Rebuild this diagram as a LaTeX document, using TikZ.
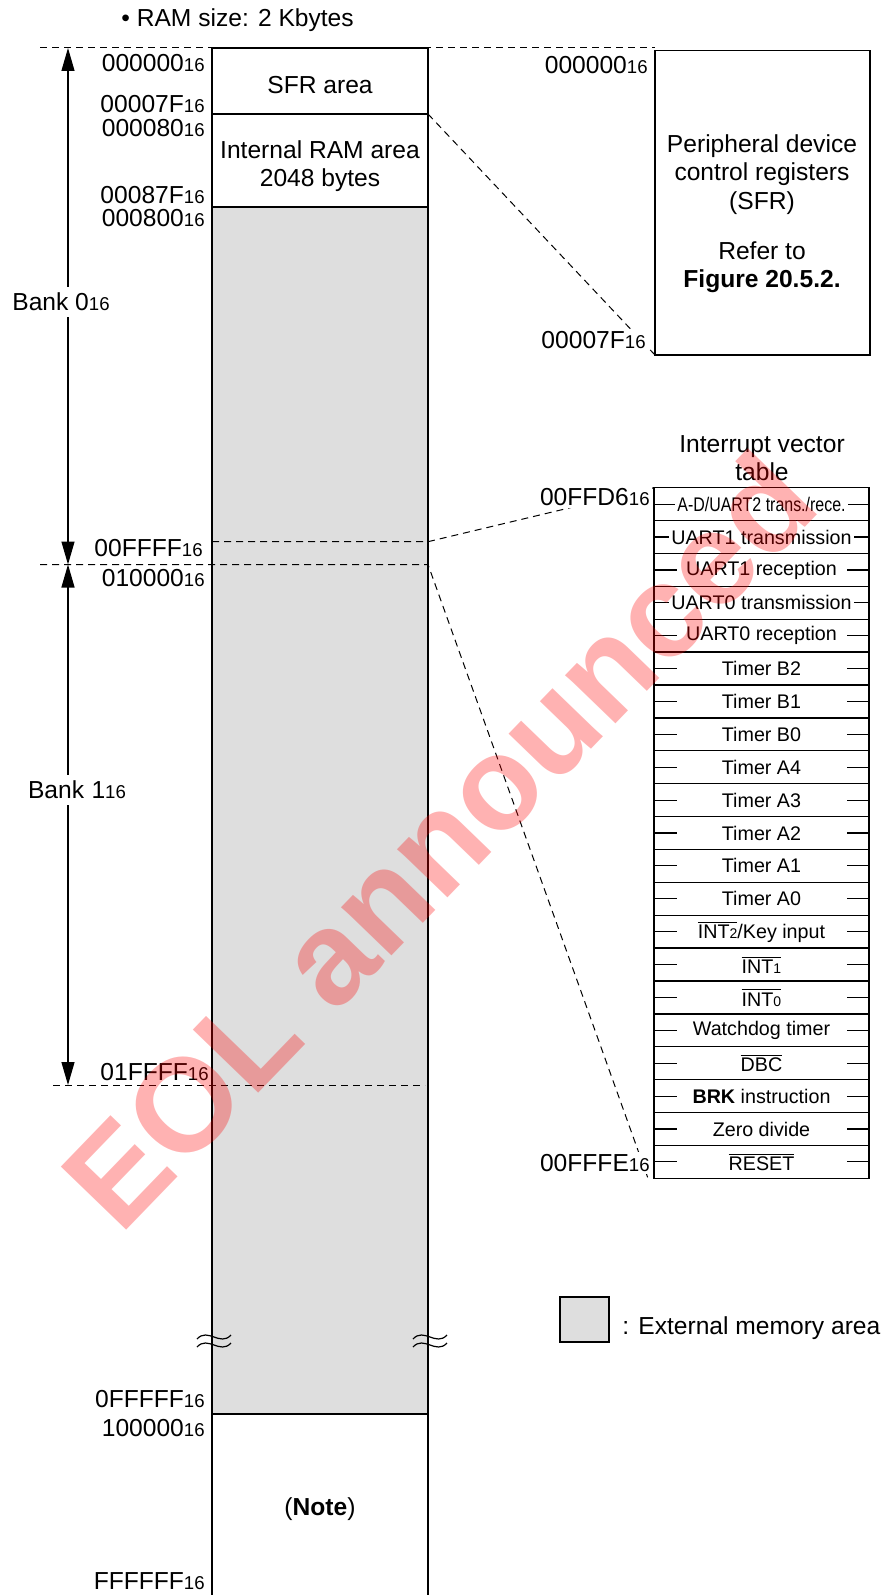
\documentclass[tikz,border=0pt]{standalone}
\usepackage{fontspec}
\setmainfont{Liberation Sans}
\usepackage{graphicx}
\usetikzlibrary{arrows.meta}
\definecolor{extgray}{RGB}{222,222,222}
\newcommand\mainsz{\fontsize{12.3pt}{14.25pt}\selectfont}
\newcommand\tabsz{\fontsize{9.85pt}{11pt}\selectfont}
\newcommand\subsz{\fontsize{9.3pt}{10pt}\selectfont}
\newcommand\hx[1]{#1{\subsz 16}}
\newcommand\smalltwo[1]{{\fontsize{7pt}{8pt}\selectfont #1}}
\newcommand\ovl[1]{$\overline{\hbox{#1}}$}
\tikzset{
  dsh/.style={dash pattern=on 3.5pt off 2.5pt, line width=0.5pt},
  lab/.style={font=\mainsz, inner sep=1pt},
  lbl/.style={lab, anchor=east},
  lblw/.style={lbl, fill=white},
  box/.style={draw, line width=0.65pt, inner sep=0pt, outer sep=0pt},
  rowbox/.style={box, minimum width=107.5pt, minimum height=16.45pt},
  rowtxt/.style={font=\tabsz, fill=white, inner xsep=1pt, inner ysep=0.5pt},
  bankarrow/.style={{Triangle[width=6.5pt,length=11.5pt]}-{Triangle[width=6.5pt,length=11.5pt]}, line width=0.6pt},
  banklab/.style={lab, fill=white, inner sep=3pt},
  wave/.style={line width=0.6pt},
}
\begin{document}
\begin{tikzpicture}[x=0.5pt,y=-0.5pt]
\useasboundingbox (0,0) rectangle (885,1595);
\fill[white] (0,0) rectangle (885,1595);

% title
\node[lab, anchor=west] (title) at (119,20) {\textbullet{} RAM size: 2 Kbytes};

% top dashed line
\coordinate (tl) at (40,48);
\coordinate (tr) at (655,48);
\draw[dsh] (tl) -- (tr);

% memory column
\node[box, minimum width=108pt, minimum height=33pt, anchor=north west] (sfr) at (212,48) {};
\node[font=\mainsz] (sfrt) at (320,85) {SFR area};
\node[box, minimum width=108pt, minimum height=46.5pt, anchor=north west] (ram) at (212,114) {};
\node[font=\mainsz, align=center] (ramt) at (320,166) {Internal RAM area\\2048 bytes};
\node[box, fill=extgray, minimum width=108pt, minimum height=603.5pt, anchor=north west] (ext) at (212,207) {};
\coordinate (nbl) at (212,1615);
\coordinate (nbr) at (428,1615);
\draw[line width=0.65pt] (ext.south west) -- (nbl);
\draw[line width=0.65pt] (ext.south east) -- (nbr);
\node[font=\mainsz] (note) at (320,1509) {(\textbf{Note})};

% break marks
\foreach \x in {214,430}{
  \foreach \y in {1337,1345}{
    \draw[wave] (\x-17,\y+2) .. controls (\x-6,\y-10) and (\x+6,\y+10) .. (\x+17,\y-2);
  }
}

% right SFR box
\node[box, minimum width=107.5pt, minimum height=152.15pt, anchor=north west] (sfrbox) at (655,50.7) {};
\node[font=\mainsz, align=center] (sfrtxt) at (762,213.5) {Peripheral device\\control registers\\(SFR)\\[10.75pt]Refer to\\\textbf{Figure 20.5.2.}};

% interrupt vector table
\node[font=\mainsz, align=center] (ivt) at (762,458) {Interrupt vector\\table};
\foreach \t [count=\i] in {
  {\scalebox{0.81}[1]{A-D/UART2 trans./rece.}},
  {UART1 transmission},
  {UART1 reception},
  {UART0 transmission},
  {UART0 reception},
  {Timer B2}, {Timer B1}, {Timer B0}, {Timer A4}, {Timer A3}, {Timer A2}, {Timer A1}, {Timer A0},
  {\ovl{INT\smalltwo{2}}/Key input},
  {\ovl{INT\smalltwo{1}}},
  {\ovl{INT\smalltwo{0}}},
  {Watchdog timer},
  {\ovl{DBC}},
  {\textbf{BRK} instruction},
  {Zero divide},
  {\ovl{RESET}}
}{
  \node[rowbox] (r\i) at (761.5,{487.7+(\i-0.5)*32.886}) {};
  \draw[line width=0.6pt] (r\i.west) -- ++(23,0);
  \draw[line width=0.6pt] (r\i.east) -- ++(-22,0);
  \node[rowtxt] (t\i) at (r\i.center) {\t};
}

% dashed boundary lines and connectors
\coordinate (a1) at (212,541.7);
\coordinate (a2) at (428,541.7);
\draw[dsh] (a1) -- (a2) -- (r1.north west);
\coordinate (b1) at (40,564.5);
\coordinate (b2) at (428,564.5);
\coordinate (e2) at (648,1178.3);
\draw[dsh] (b1) -- (b2) -- (e2);
\coordinate (c1) at (53,1085);
\coordinate (c2) at (425,1085);
\draw[dsh] (c1) -- (c2);
\draw[dsh] (sfr.south east) -- (sfrbox.south west);

% bank arrows
\coordinate (k0) at (68,48);
\coordinate (k1) at (68,564.5);
\coordinate (k2) at (68,1085);
\draw[bankarrow] (k0) -- (k1);
\draw[bankarrow] (k1) -- (k2);
\node[banklab] (bank0) at (61,302) {\hx{Bank 0}};
\node[banklab] (bank1) at (77,790) {\hx{Bank\kern0.3em 1}};

% left address labels
\node[lbl] (l1) at (207,63) {\hx{000000}};
\node[lbl] (l2) at (207,104) {\hx{00007F}};
\node[lbl] (l3) at (207,128) {\hx{000080}};
\node[lbl] (l4) at (207,195) {\hx{00087F}};
\node[lbl] (l5) at (207,218) {\hx{000800}};
\node[lbl] (l6) at (205,548) {\hx{00FFFF}};
\node[lbl] (l7) at (207,578) {\hx{010000}};
\node[lbl] (l8) at (211,1072) {\hx{01FFFF}};
\node[lbl] (l9) at (207,1399) {\hx{0FFFFF}};
\node[lbl] (l10) at (207,1428) {\hx{100000}};
\node[lbl] (l11) at (207,1581) {\hx{FFFFFF}};

% right address labels
\node[lbl] (m1) at (650,65) {\hx{000000}};
\node[lblw] (m2) at (648,340) {\hx{00007F}};
\node[lblw] (m3) at (652,497) {\hx{00FFD6}};
\node[lblw] (m4) at (652,1163) {\hx{00FFFE}};

% legend
\node[box, fill=extgray, minimum width=24.5pt, minimum height=22.5pt, anchor=north west] (leg) at (560,1297) {};
\node[lab, anchor=west] (legt) at (620,1328) {: External memory area};

% watermark
\node[rotate=46, text=red, text opacity=0.3, font=\fontsize{66pt}{70pt}\selectfont\bfseries] (wm) at (438,840) {EOL announced};
\end{tikzpicture}
\end{document}
